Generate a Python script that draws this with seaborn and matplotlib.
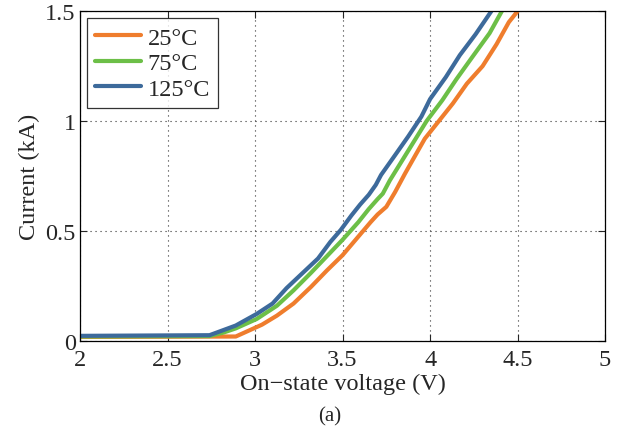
import matplotlib
matplotlib.use("Agg")
import matplotlib.pyplot as plt
import pandas as pd
import seaborn as sns

# On-state characteristics at three junction temperatures (V, kA)
v_25 = [2.00, 2.89, 3.04, 3.125, 3.22, 3.32, 3.41, 3.50, 3.58, 3.66, 3.70, 3.75, 3.80,
        3.856, 3.91, 3.97, 4.04, 4.13, 4.21, 4.30, 4.38, 4.45, 4.50]
i_25 = [0.018, 0.02, 0.074, 0.115, 0.17, 0.246, 0.32, 0.39, 0.465, 0.54, 0.575, 0.61, 0.677,
        0.76, 0.836, 0.92, 0.99, 1.08, 1.17, 1.25, 1.35, 1.45, 1.50]

v_75 = [2.00, 2.74, 2.82, 2.89, 3.01, 3.125, 3.22, 3.32, 3.41, 3.50, 3.59, 3.65, 3.70,
        3.73, 3.77, 3.84, 3.91, 3.98, 4.07, 4.15, 4.24, 4.34, 4.41]
i_75 = [0.02, 0.022, 0.038, 0.057, 0.10, 0.16, 0.23, 0.31, 0.385, 0.46, 0.54, 0.60, 0.645,
        0.67, 0.73, 0.82, 0.91, 1.00, 1.095, 1.19, 1.29, 1.40, 1.50]

v_125 = [2.00, 2.74, 2.89, 3.01, 3.10, 3.18, 3.28, 3.36, 3.43, 3.49, 3.55, 3.60, 3.65,
         3.69, 3.72, 3.80, 3.875, 3.95, 4.00, 4.09, 4.17, 4.26, 4.35]
i_125 = [0.023, 0.026, 0.07, 0.123, 0.17, 0.24, 0.315, 0.375, 0.45, 0.505, 0.57, 0.62, 0.665,
         0.71, 0.755, 0.845, 0.93, 1.02, 1.10, 1.20, 1.30, 1.395, 1.50]

temps = ["25°C", "75°C", "125°C"]
colors = ["#EF7D2D", "#6CBF47", "#3D6A9B"]

x_ticks = [2, 2.5, 3, 3.5, 4, 4.5, 5]
x_tick_labels = ["2", "2.5", "3", "3.5", "4", "4.5", "5"]
y_ticks = [0, 0.5, 1, 1.5]
y_tick_labels = ["0", "0.5", "1", "1.5"]

frames = []
for label, v, i in zip(temps, [v_25, v_75, v_125], [i_25, i_75, i_125]):
    frames.append(pd.DataFrame({"voltage": v, "current": i, "temp": label}))
df = pd.concat(frames, ignore_index=True)

sns.set_style("white")
plt.rcParams["font.family"] = ["Liberation Serif", "DejaVu Serif"]

fig = plt.figure(figsize=(6.2, 4.35), dpi=100)
ax = fig.add_axes([0.129, 0.214, 0.847, 0.758])

sns.lineplot(data=df, x="voltage", y="current", hue="temp", hue_order=temps,
             palette=colors, linewidth=3, sort=False, estimator=None, ax=ax)

ax.set_xlim(2, 5)
ax.set_ylim(0, 1.5)
ax.set_xticks(x_ticks)
ax.set_xticklabels(x_tick_labels)
ax.set_yticks(y_ticks)
ax.set_yticklabels(y_tick_labels)
ax.grid(True, color="#333333", linestyle=(0, (1, 3.5)), linewidth=0.8)
ax.tick_params(direction="in", length=5, width=0.8, labelsize=17.5,
               top=True, right=True, bottom=True, left=True)
ax.tick_params(axis="x", pad=6)
ax.tick_params(axis="y", pad=3)
for s in ax.spines.values():
    s.set_visible(True)
    s.set_color("black")
    s.set_linewidth(0.9)

ax.set_xlabel("On\u2212state voltage (V)", fontsize=17.5, labelpad=2)
ax.set_ylabel("Current (kA)", fontsize=17.5, labelpad=4)

leg = ax.legend(loc="upper left", fontsize=17.5, frameon=True, fancybox=False,
                handlelength=1.9, handletextpad=0.25, borderpad=0.35,
                labelspacing=0.15, borderaxespad=0.28)
leg.get_frame().set_edgecolor("black")
leg.get_frame().set_linewidth(0.9)
for line in leg.get_lines():
    line.set_linewidth(3)

fig.text(0.532, 0.041, "(a)", ha="center", va="center", fontsize=15)

fig.savefig("out.png", dpi=100)
